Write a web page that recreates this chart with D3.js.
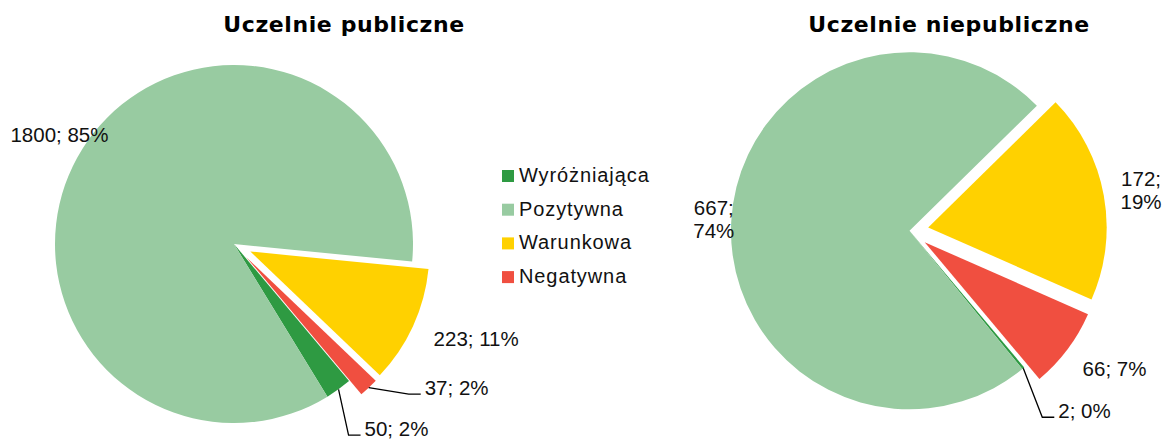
<!DOCTYPE html>
<html>
<head>
<meta charset="utf-8">
<script src="https://cdnjs.cloudflare.com/ajax/libs/d3/7.8.5/d3.min.js"></script>
<style>
  body { margin: 0; background: #fff; }
  svg { display: block; }
  .title { font-family: "DejaVu Sans", sans-serif; font-weight: bold; font-size: 22px; }
  .lbl, .leg { font-family: "Liberation Sans", Arial, sans-serif; font-size: 20.5px; fill: #111; }
  .leg { font-size: 20px; letter-spacing: 0.9px; }
</style>
</head>
<body>
<div id="chart"></div>
<script>
// --------------------------------------------------
// data
var categories = ["Wyróżniająca", "Pozytywna", "Warunkowa", "Negatywna"];
var publiczne = [50, 1800, 223, 37];
var niepubliczne = [2, 667, 172, 66];
var percentPubliczne = ["2%", "85%", "11%", "2%"];
var percentNiepubliczne = ["0%", "74%", "19%", "7%"];
var titles = ["Uczelnie publiczne", "Uczelnie niepubliczne"];

var colors = ["#2e9a42", "#98cba1", "#ffd100", "#f04f40"];

var width = 1163, height = 439;

var svg = d3.select("#chart")
    .append("svg")
    .attr("width", width)
    .attr("height", height);

// layout of the two pies; label = [radius, angle shift in degrees], leader = draw a line
var pies = [
    {
        values: publiczne, pct: percentPubliczne, title: titles[0],
        cx: 234, cy: 244, r: 179, titleX: 344,
        explode: [0, 0, 18, 18],
        label: [[246, -5.6], [206, 0], [260, -3.3], [265, -14]],
        leader: [true, false, false, true],
        wrap: false
    },
    {
        values: niepubliczne, pct: percentNiepubliczne, title: titles[1],
        cx: 909.5, cy: 230.8, r: 178.5, titleX: 949,
        explode: [0, 0, 19, 19],
        label: [[251, -4.6], [196, 0], [235, 0.5], [247, -3]],
        leader: [true, false, false, false],
        wrap: true
    }
];

var pie = d3.pie()
    .sort(null)
    .value(function(d) { return d; })
    .startAngle(140 * Math.PI / 180)
    .endAngle(500 * Math.PI / 180);

function dir(a) { return [Math.sin(a), -Math.cos(a)]; }

pies.forEach(function(p) {
    var g = svg.append("g")
        .attr("transform", "translate(" + p.cx + "," + p.cy + ")");

    var arc = d3.arc().innerRadius(0).outerRadius(p.r);
    var arcs = pie(p.values);

    // slices
    g.selectAll("path")
        .data(arcs)
        .enter()
        .append("path")
        .attr("d", arc)
        .attr("fill", function(d, i) { return colors[i]; })
        .attr("transform", function(d, i) {
            var m = dir((d.startAngle + d.endAngle) / 2);
            return "translate(" + m[0] * p.explode[i] + "," + m[1] * p.explode[i] + ")";
        });

    // data labels
    arcs.forEach(function(d, i) {
        var mid = (d.startAngle + d.endAngle) / 2;
        var la = mid + p.label[i][1] * Math.PI / 180;
        var lp = dir(la).map(function(v) { return v * p.label[i][0]; });
        var txt = p.values[i] + "; " + p.pct[i];

        var t = g.append("text")
            .attr("class", "lbl")
            .attr("text-anchor", "middle");

        if (p.wrap && !p.leader[i] && i != 3) {
            t.append("tspan").attr("x", lp[0]).attr("y", lp[1] - 11.5 + 7).text(p.values[i] + ";");
            t.append("tspan").attr("x", lp[0]).attr("y", lp[1] + 11.5 + 7).text(p.pct[i]);
        } else {
            t.attr("x", lp[0]).attr("y", lp[1] + 7).text(txt);
        }

        if (p.leader[i]) {
            var w = t.node().getComputedTextLength();
            var left = lp[0] - w / 2;
            var base = lp[1] + 7;
            var e = dir(mid).map(function(v) { return v * (p.r + p.explode[i]); });
            g.append("path")
                .attr("d", "M" + e[0] + "," + e[1] +
                    "L" + (left - 16) + "," + (base - 0.5) +
                    "L" + (left - 4) + "," + (base - 0.5))
                .attr("fill", "none")
                .attr("stroke", "#000")
                .attr("stroke-width", 1.3);
        }
    });

    // title
    svg.append("text")
        .attr("class", "title")
        .attr("x", p.titleX)
        .attr("y", 32)
        .attr("text-anchor", "middle")
        .attr("letter-spacing", "0.6px")
        .text(p.title);
});

// legend
var legend = svg.append("g")
    .attr("transform", "translate(502, 170)");

var item = legend.selectAll("g")
    .data(categories)
    .enter()
    .append("g")
    .attr("transform", function(d, i) { return "translate(0," + i * 33.7 + ")"; });

item.append("rect")
    .attr("width", 12)
    .attr("height", 12)
    .attr("fill", function(d, i) { return colors[i]; });

item.append("text")
    .attr("class", "leg")
    .attr("x", 17)
    .attr("y", 12)
    .text(function(d) { return d; });
</script>
</body>
</html>
